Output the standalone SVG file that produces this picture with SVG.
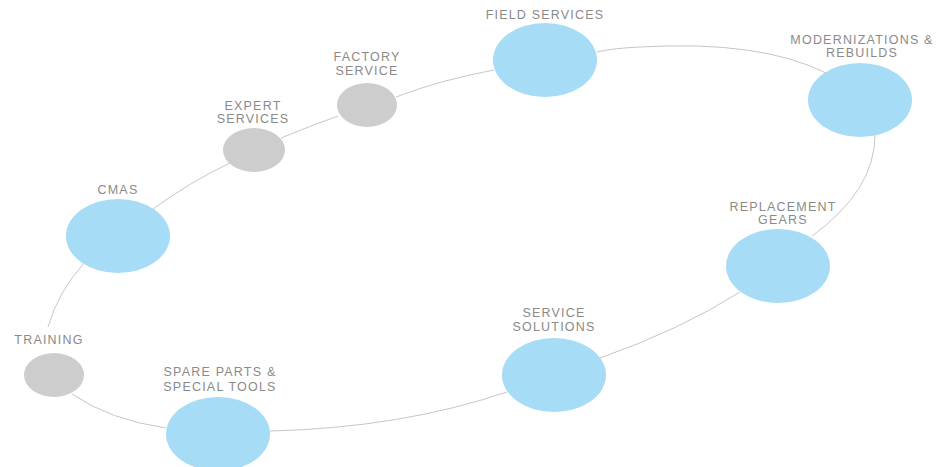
<svg xmlns="http://www.w3.org/2000/svg" width="942" height="467" viewBox="0 0 942 467">
<style>
.big{fill:#a6dcf6}
.small{fill:#cdcdcd}
.lbl{font-family:"Liberation Sans",Arial,sans-serif;font-size:12.5px;fill:#8a8a8a;text-anchor:middle;letter-spacing:1.2px}
.c{fill:none;stroke:#c6c6c6;stroke-width:1}
</style>
<rect width="942" height="467" fill="#ffffff"/>
<g id="connectors">
<path class="c" d="M85,262 Q58,292 48,327"/>
<path class="c" d="M72,394 Q110,420 166,428"/>
<path class="c" d="M270,431 Q400,428 507,392"/>
<path class="c" d="M600,358 Q680,330 740,292"/>
<path class="c" d="M812,236 Q875,190 875,135"/>
<path class="c" d="M826,73 Q760,40 640,47 Q615,48 597,52"/>
<path class="c" d="M494,70 Q440,80 396,97"/>
<path class="c" d="M338,116 Q310,126 281,138"/>
<path class="c" d="M230,163 Q190,182 153,209"/>
</g>
<g id="field-services">
<ellipse class="big" cx="545" cy="60" rx="52" ry="37"/>
<text class="lbl" x="545" y="19">FIELD SERVICES</text>
</g>
<g id="modernizations">
<ellipse class="big" cx="860" cy="100" rx="52" ry="37"/>
<text class="lbl" x="862" y="44">MODERNIZATIONS &amp;</text>
<text class="lbl" x="862" y="57">REBUILDS</text>
</g>
<g id="replacement-gears">
<ellipse class="big" cx="778" cy="266" rx="52" ry="37"/>
<text class="lbl" x="783" y="211">REPLACEMENT</text>
<text class="lbl" x="783" y="224">GEARS</text>
</g>
<g id="service-solutions">
<ellipse class="big" cx="554" cy="375" rx="52" ry="37"/>
<text class="lbl" x="554" y="317">SERVICE</text>
<text class="lbl" x="554" y="331">SOLUTIONS</text>
</g>
<g id="spare-parts">
<ellipse class="big" cx="218" cy="434" rx="52" ry="37"/>
<text class="lbl" x="220" y="376">SPARE PARTS &amp;</text>
<text class="lbl" x="220" y="391">SPECIAL TOOLS</text>
</g>
<g id="training">
<ellipse class="small" cx="54" cy="375" rx="30" ry="22"/>
<text class="lbl" x="49" y="344">TRAINING</text>
</g>
<g id="cmas">
<ellipse class="big" cx="118" cy="236" rx="52" ry="37"/>
<text class="lbl" x="118" y="194">CMAS</text>
</g>
<g id="expert-services">
<ellipse class="small" cx="254" cy="150" rx="31" ry="22"/>
<text class="lbl" x="253" y="110">EXPERT</text>
<text class="lbl" x="253" y="123">SERVICES</text>
</g>
<g id="factory-service">
<ellipse class="small" cx="367" cy="105" rx="30" ry="22"/>
<text class="lbl" x="367" y="61">FACTORY</text>
<text class="lbl" x="367" y="75">SERVICE</text>
</g>
</svg>
